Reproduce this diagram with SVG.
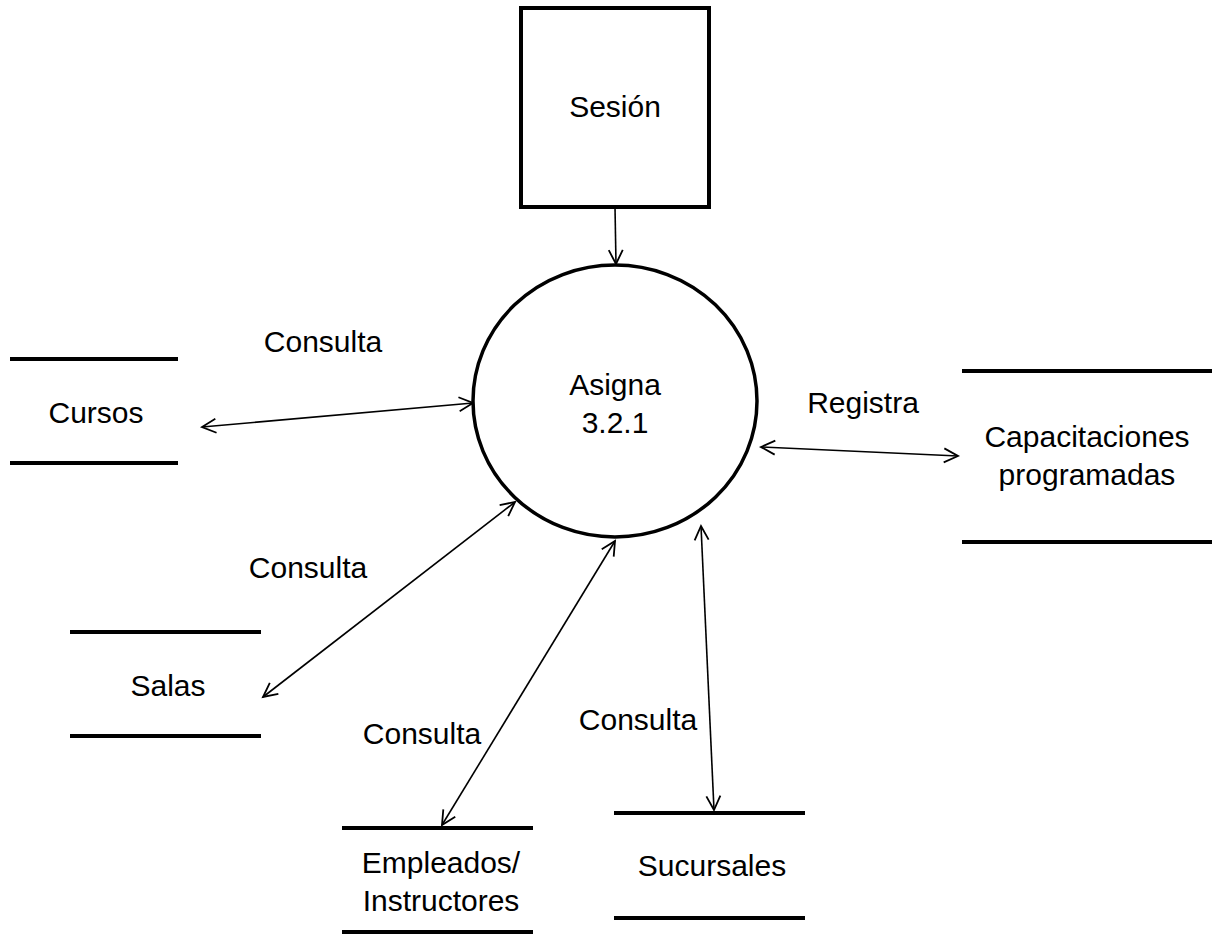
<svg xmlns="http://www.w3.org/2000/svg" width="1212" height="934" viewBox="0 0 1212 934">
<style>
  text { font-family: "Liberation Sans", Arial, sans-serif; font-size: 30px; fill: #000; text-anchor: middle; }
  .store { stroke: #000; stroke-width: 4; fill: none; }
  .flow { stroke: #000; stroke-width: 1.6; fill: none; marker-end: url(#arr); marker-start: url(#arr); }
  .flow1 { stroke: #000; stroke-width: 1.6; fill: none; marker-end: url(#arr); }
</style>
<defs>
  <marker id="arr" markerUnits="userSpaceOnUse" markerWidth="20" markerHeight="20" refX="15" refY="8" orient="auto-start-reverse" viewBox="0 0 20 16">
    <path d="M1,1 L15,8 L1,15" fill="none" stroke="#000" stroke-width="1.8"/>
  </marker>
</defs>
<rect width="1212" height="934" fill="#fff"/>
<g id="connectors">
  <line class="flow1" x1="615" y1="207" x2="616" y2="264"/>
  <line class="flow" x1="202" y1="427" x2="473" y2="403"/>
  <line class="flow" x1="263" y1="697" x2="515" y2="502"/>
  <line class="flow" x1="442" y1="825" x2="615" y2="541"/>
  <line class="flow" x1="701" y1="526" x2="714" y2="810"/>
  <line class="flow" x1="761" y1="447" x2="958" y2="456"/>
  <text x="323" y="352">Consulta</text>
  <text x="308" y="578">Consulta</text>
  <text x="422" y="744">Consulta</text>
  <text x="638" y="730">Consulta</text>
  <text x="863" y="413">Registra</text>
</g>
<g id="sesion">
  <rect x="521" y="8" width="188" height="199" fill="#fff" stroke="#000" stroke-width="4"/>
  <text x="615" y="117">Sesión</text>
</g>
<g id="asigna">
  <ellipse cx="615" cy="401" rx="142" ry="136" fill="#fff" stroke="#000" stroke-width="3.5"/>
  <text x="615" y="395">Asigna</text>
  <text x="615" y="433">3.2.1</text>
</g>
<g id="cursos">
  <line class="store" x1="10" y1="359" x2="178" y2="359"/>
  <line class="store" x1="10" y1="463" x2="178" y2="463"/>
  <text x="96" y="423">Cursos</text>
</g>
<g id="capacitaciones">
  <line class="store" x1="962" y1="371" x2="1212" y2="371"/>
  <line class="store" x1="962" y1="542" x2="1212" y2="542"/>
  <text x="1087" y="447">Capacitaciones</text>
  <text x="1087" y="485">programadas</text>
</g>
<g id="salas">
  <line class="store" x1="70" y1="632" x2="261" y2="632"/>
  <line class="store" x1="70" y1="736" x2="261" y2="736"/>
  <text x="168" y="696">Salas</text>
</g>
<g id="empleados">
  <line class="store" x1="342" y1="828" x2="533" y2="828"/>
  <line class="store" x1="342" y1="932" x2="533" y2="932"/>
  <text x="441" y="873">Empleados/</text>
  <text x="441" y="911">Instructores</text>
</g>
<g id="sucursales">
  <line class="store" x1="614" y1="813" x2="805" y2="813"/>
  <line class="store" x1="614" y1="918" x2="805" y2="918"/>
  <text x="712" y="876">Sucursales</text>
</g>
</svg>
